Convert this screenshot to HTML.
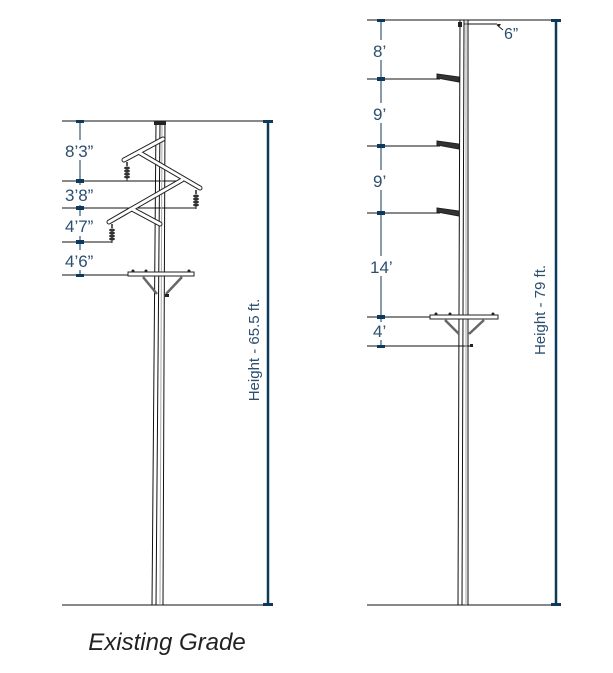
<!DOCTYPE html>
<html><head><style>
html,body{margin:0;padding:0;background:#fff;}
svg{display:block;}
text{font-family:"Liberation Sans",sans-serif;fill:#2c4f6e;}
</style></head><body>
<svg width="613" height="673" viewBox="0 0 613 673" xmlns="http://www.w3.org/2000/svg">
<defs>
<g id="ins">
<line x1="0" y1="0" x2="0" y2="4" stroke="#222" stroke-width="1.5"/>
<ellipse cx="0" cy="6" rx="3" ry="1.5" fill="#333"/>
<ellipse cx="0" cy="9" rx="3" ry="1.5" fill="#333"/>
<ellipse cx="0" cy="12" rx="3" ry="1.5" fill="#333"/>
<ellipse cx="0" cy="15" rx="3" ry="1.5" fill="#333"/>
<line x1="0" y1="15" x2="0" y2="19" stroke="#222" stroke-width="1"/>
</g>
</defs>
<!-- LEFT POLE -->
<g stroke="#111" stroke-width="1" fill="none">
<line x1="62" y1="605" x2="270" y2="605"/>
<line x1="62" y1="121" x2="272" y2="121"/>
<line x1="62" y1="181" x2="182" y2="181"/>
<line x1="62" y1="208" x2="196" y2="208"/>
<line x1="62" y1="242" x2="112" y2="242"/>
<line x1="62" y1="275" x2="130" y2="275"/>
<line x1="156" y1="121" x2="152" y2="605"/>
<line x1="160" y1="121" x2="156" y2="605"/>
<line x1="165" y1="121" x2="163" y2="605"/>
<line x1="80" y1="121" x2="80" y2="275" stroke="#0d3a5c"/>
</g>
<line x1="162" y1="121" x2="160" y2="605" stroke="#aaa" stroke-width="1"/>
<rect x="154" y="121" width="12" height="4" fill="#222"/>
<line x1="268" y1="121" x2="268" y2="605" stroke="#0d3a5c" stroke-width="2.5"/>
<rect x="263" y="120" width="10" height="3" fill="#0d3a5c"/>
<rect x="263" y="603" width="10" height="3" fill="#0d3a5c"/>
<g fill="#0d3a5c">
<rect x="76" y="120" width="8" height="3"/><rect x="76" y="179" width="8" height="4"/>
<rect x="76" y="206" width="8" height="4"/><rect x="76" y="240" width="8" height="4"/>
<rect x="76" y="274" width="8" height="3"/>
</g>
<g fill="#fff">
<rect x="64" y="140" width="34" height="20"/><rect x="64" y="185" width="34" height="20"/>
<rect x="64" y="216" width="34" height="20"/><rect x="64" y="250" width="34" height="20"/>
</g>
<text x="65" y="157" font-size="17">8’3”</text>
<text x="65" y="201" font-size="17">3’8”</text>
<text x="65" y="232" font-size="17">4’7”</text>
<text x="65" y="267" font-size="17">4’6”</text>
<!-- crossarms -->
<g stroke="#222" stroke-width="5" stroke-linecap="round">
<line x1="163" y1="139" x2="124" y2="160"/>
<line x1="140" y1="153" x2="200" y2="188"/>
<line x1="182" y1="180" x2="109" y2="222"/>
<line x1="132" y1="209" x2="160" y2="224"/>
</g>
<g stroke="#fff" stroke-width="3" stroke-linecap="round">
<line x1="163" y1="139" x2="124" y2="160"/>
<line x1="140" y1="153" x2="200" y2="188"/>
<line x1="182" y1="180" x2="109" y2="222"/>
<line x1="132" y1="209" x2="160" y2="224"/>
</g>
<use href="#ins" x="127" y="162"/>
<use href="#ins" x="196" y="190"/>
<use href="#ins" x="112" y="224"/>
<rect x="128" y="272" width="66" height="4" fill="#fff" stroke="#222" stroke-width="1"/>
<g fill="#222"><circle cx="133" cy="271" r="1.5"/><circle cx="146" cy="271" r="1.5"/><circle cx="189" cy="271" r="1.5"/></g>
<g stroke="#666" stroke-width="2.5"><line x1="143" y1="277" x2="157" y2="294"/><line x1="182" y1="277" x2="166" y2="294"/></g>
<rect x="165" y="294" width="4" height="3" fill="#222"/>
<text transform="translate(259,350) rotate(-90)" text-anchor="middle" font-size="15">Height - 65.5 ft.</text>
<text x="167" y="650" text-anchor="middle" font-size="24" font-style="italic" style="fill:#222">Existing Grade</text>

<!-- RIGHT POLE -->
<g stroke="#111" stroke-width="1" fill="none">
<line x1="367" y1="605" x2="560" y2="605"/>
<line x1="367" y1="20" x2="560" y2="20"/>
<line x1="367" y1="79" x2="440" y2="79"/>
<line x1="367" y1="146" x2="440" y2="146"/>
<line x1="367" y1="213" x2="440" y2="213"/>
<line x1="367" y1="317" x2="432" y2="317"/>
<line x1="367" y1="346" x2="470" y2="346"/>
<line x1="464" y1="24" x2="497" y2="24"/>
<line x1="460" y1="20" x2="458" y2="605"/>
<line x1="464" y1="20" x2="462" y2="605"/>
<line x1="468" y1="20" x2="468" y2="605"/>
<line x1="381" y1="20" x2="381" y2="346" stroke="#0d3a5c"/>
</g>
<line x1="466" y1="20" x2="466" y2="605" stroke="#aaa"/>
<rect x="458" y="22" width="4" height="5" fill="#222"/>
<path d="M497 25 L503 30" stroke="#222"/><path d="M497 24 l4 0 l-2 3z" fill="#222"/>
<line x1="556" y1="20" x2="556" y2="605" stroke="#0d3a5c" stroke-width="2.5"/>
<rect x="551" y="19" width="10" height="3" fill="#0d3a5c"/>
<rect x="551" y="603" width="10" height="3" fill="#0d3a5c"/>
<g fill="#0d3a5c">
<rect x="377" y="19" width="8" height="3"/><rect x="377" y="77" width="8" height="4"/>
<rect x="377" y="144" width="8" height="4"/><rect x="377" y="211" width="8" height="4"/>
<rect x="377" y="315" width="8" height="4"/><rect x="377" y="345" width="8" height="3"/>
</g>
<g fill="#fff">
<rect x="372" y="40" width="20" height="20"/><rect x="372" y="103" width="20" height="20"/>
<rect x="372" y="170" width="20" height="20"/><rect x="369" y="256" width="28" height="20"/>
<rect x="372" y="322" width="20" height="18"/>
</g>
<text x="373" y="57" font-size="17">8’</text>
<text x="373" y="120" font-size="17">9’</text>
<text x="373" y="187" font-size="17">9’</text>
<text x="370" y="273" font-size="17">14’</text>
<text x="373" y="337" font-size="17">4’</text>
<text x="504" y="39" font-size="16">6”</text>
<g stroke="#222">
<path d="M437 74 L459 77 L459 82 L437 78 Z" fill="#333"/>
<path d="M437 141 L459 144 L459 149 L437 145 Z" fill="#333"/>
<path d="M437 208 L459 211 L459 216 L437 212 Z" fill="#333"/>
</g>
<rect x="430" y="315" width="68" height="4" fill="#fff" stroke="#222"/>
<g fill="#222"><circle cx="436" cy="314" r="1.5"/><circle cx="450" cy="314" r="1.5"/><circle cx="493" cy="314" r="1.5"/></g>
<g stroke="#666" stroke-width="2.5"><line x1="445" y1="320" x2="459" y2="334"/><line x1="484" y1="320" x2="469" y2="334"/></g>
<rect x="470" y="344" width="3" height="3" fill="#222"/>
<text transform="translate(545,310) rotate(-90)" text-anchor="middle" font-size="15">Height - 79 ft.</text>
</svg>
</body></html>
